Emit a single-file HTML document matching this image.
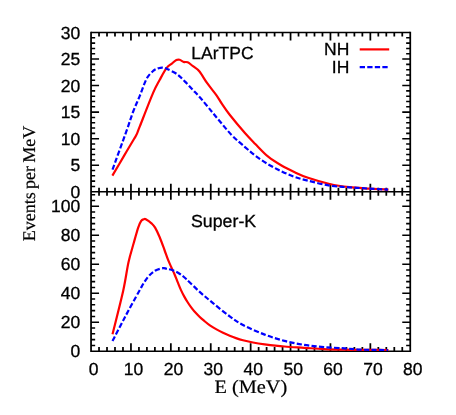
<!DOCTYPE html><html><head><meta charset="utf-8"><style>html,body{margin:0;padding:0;background:#fff}svg{display:block}text{font-family:"Liberation Sans",sans-serif;text-rendering:geometricPrecision;fill:#000;stroke:#000;stroke-width:0.3px}.s{font-family:"Liberation Serif",serif;stroke-width:0.2px}</style></head><body><div style="will-change:transform;width:456px;height:415px">
<svg width="456" height="415" viewBox="0 0 456 415">
<rect width="456" height="415" fill="#fff"/>
<path d="M99.03,32.5v4.1 M99.03,187.65V195.85 M99.03,351.2v-4.1 M107.01,32.5v4.1 M107.01,187.65V195.85 M107.01,351.2v-4.1 M114.99,32.5v4.1 M114.99,187.65V195.85 M114.99,351.2v-4.1 M122.97,32.5v4.1 M122.97,187.65V195.85 M122.97,351.2v-4.1 M130.95,32.5v8.0 M130.95,183.75V199.75 M130.95,351.2v-8.0 M138.93,32.5v4.1 M138.93,187.65V195.85 M138.93,351.2v-4.1 M146.91,32.5v4.1 M146.91,187.65V195.85 M146.91,351.2v-4.1 M154.89,32.5v4.1 M154.89,187.65V195.85 M154.89,351.2v-4.1 M162.87,32.5v4.1 M162.87,187.65V195.85 M162.87,351.2v-4.1 M170.85,32.5v8.0 M170.85,183.75V199.75 M170.85,351.2v-8.0 M178.83,32.5v4.1 M178.83,187.65V195.85 M178.83,351.2v-4.1 M186.81,32.5v4.1 M186.81,187.65V195.85 M186.81,351.2v-4.1 M194.79,32.5v4.1 M194.79,187.65V195.85 M194.79,351.2v-4.1 M202.77,32.5v4.1 M202.77,187.65V195.85 M202.77,351.2v-4.1 M210.75,32.5v8.0 M210.75,183.75V199.75 M210.75,351.2v-8.0 M218.73,32.5v4.1 M218.73,187.65V195.85 M218.73,351.2v-4.1 M226.71,32.5v4.1 M226.71,187.65V195.85 M226.71,351.2v-4.1 M234.69,32.5v4.1 M234.69,187.65V195.85 M234.69,351.2v-4.1 M242.67,32.5v4.1 M242.67,187.65V195.85 M242.67,351.2v-4.1 M250.65,32.5v8.0 M250.65,183.75V199.75 M250.65,351.2v-8.0 M258.63,32.5v4.1 M258.63,187.65V195.85 M258.63,351.2v-4.1 M266.61,32.5v4.1 M266.61,187.65V195.85 M266.61,351.2v-4.1 M274.59,32.5v4.1 M274.59,187.65V195.85 M274.59,351.2v-4.1 M282.57,32.5v4.1 M282.57,187.65V195.85 M282.57,351.2v-4.1 M290.55,32.5v8.0 M290.55,183.75V199.75 M290.55,351.2v-8.0 M298.53,32.5v4.1 M298.53,187.65V195.85 M298.53,351.2v-4.1 M306.51,32.5v4.1 M306.51,187.65V195.85 M306.51,351.2v-4.1 M314.49,32.5v4.1 M314.49,187.65V195.85 M314.49,351.2v-4.1 M322.47,32.5v4.1 M322.47,187.65V195.85 M322.47,351.2v-4.1 M330.45,32.5v8.0 M330.45,183.75V199.75 M330.45,351.2v-8.0 M338.43,32.5v4.1 M338.43,187.65V195.85 M338.43,351.2v-4.1 M346.41,32.5v4.1 M346.41,187.65V195.85 M346.41,351.2v-4.1 M354.39,32.5v4.1 M354.39,187.65V195.85 M354.39,351.2v-4.1 M362.37,32.5v4.1 M362.37,187.65V195.85 M362.37,351.2v-4.1 M370.35,32.5v8.0 M370.35,183.75V199.75 M370.35,351.2v-8.0 M378.33,32.5v4.1 M378.33,187.65V195.85 M378.33,351.2v-4.1 M386.31,32.5v4.1 M386.31,187.65V195.85 M386.31,351.2v-4.1 M394.29,32.5v4.1 M394.29,187.65V195.85 M394.29,351.2v-4.1 M402.27,32.5v4.1 M402.27,187.65V195.85 M402.27,351.2v-4.1" stroke="#000" stroke-width="1.75" fill="none"/>
<path d="M91.05,186.44h4.1 M410.25,186.44h-4.1 M91.05,181.13h4.1 M410.25,181.13h-4.1 M91.05,175.82h4.1 M410.25,175.82h-4.1 M91.05,170.52h4.1 M410.25,170.52h-4.1 M91.05,165.21h8.0 M410.25,165.21h-8.0 M91.05,159.90h4.1 M410.25,159.90h-4.1 M91.05,154.59h4.1 M410.25,154.59h-4.1 M91.05,149.28h4.1 M410.25,149.28h-4.1 M91.05,143.97h4.1 M410.25,143.97h-4.1 M91.05,138.67h8.0 M410.25,138.67h-8.0 M91.05,133.36h4.1 M410.25,133.36h-4.1 M91.05,128.05h4.1 M410.25,128.05h-4.1 M91.05,122.74h4.1 M410.25,122.74h-4.1 M91.05,117.43h4.1 M410.25,117.43h-4.1 M91.05,112.12h8.0 M410.25,112.12h-8.0 M91.05,106.82h4.1 M410.25,106.82h-4.1 M91.05,101.51h4.1 M410.25,101.51h-4.1 M91.05,96.20h4.1 M410.25,96.20h-4.1 M91.05,90.89h4.1 M410.25,90.89h-4.1 M91.05,85.58h8.0 M410.25,85.58h-8.0 M91.05,80.28h4.1 M410.25,80.28h-4.1 M91.05,74.97h4.1 M410.25,74.97h-4.1 M91.05,69.66h4.1 M410.25,69.66h-4.1 M91.05,64.35h4.1 M410.25,64.35h-4.1 M91.05,59.04h8.0 M410.25,59.04h-8.0 M91.05,53.73h4.1 M410.25,53.73h-4.1 M91.05,48.43h4.1 M410.25,48.43h-4.1 M91.05,43.12h4.1 M410.25,43.12h-4.1 M91.05,37.81h4.1 M410.25,37.81h-4.1 M91.05,345.40h4.1 M410.25,345.40h-4.1 M91.05,339.60h4.1 M410.25,339.60h-4.1 M91.05,333.81h4.1 M410.25,333.81h-4.1 M91.05,328.01h4.1 M410.25,328.01h-4.1 M91.05,322.21h8.0 M410.25,322.21h-8.0 M91.05,316.41h4.1 M410.25,316.41h-4.1 M91.05,310.61h4.1 M410.25,310.61h-4.1 M91.05,304.81h4.1 M410.25,304.81h-4.1 M91.05,299.02h4.1 M410.25,299.02h-4.1 M91.05,293.22h8.0 M410.25,293.22h-8.0 M91.05,287.42h4.1 M410.25,287.42h-4.1 M91.05,281.62h4.1 M410.25,281.62h-4.1 M91.05,275.82h4.1 M410.25,275.82h-4.1 M91.05,270.03h4.1 M410.25,270.03h-4.1 M91.05,264.23h8.0 M410.25,264.23h-8.0 M91.05,258.43h4.1 M410.25,258.43h-4.1 M91.05,252.63h4.1 M410.25,252.63h-4.1 M91.05,246.83h4.1 M410.25,246.83h-4.1 M91.05,241.03h4.1 M410.25,241.03h-4.1 M91.05,235.24h8.0 M410.25,235.24h-8.0 M91.05,229.44h4.1 M410.25,229.44h-4.1 M91.05,223.64h4.1 M410.25,223.64h-4.1 M91.05,217.84h4.1 M410.25,217.84h-4.1 M91.05,212.04h4.1 M410.25,212.04h-4.1 M91.05,206.25h8.0 M410.25,206.25h-8.0 M91.05,200.45h4.1 M410.25,200.45h-4.1 M91.05,194.65h4.1 M410.25,194.65h-4.1" stroke="#000" stroke-width="1.55" fill="none"/>
<path d="M91.05,31.725V351.97499999999997 M410.25,31.725V351.97499999999997" stroke="#000" stroke-width="1.75" fill="none"/>
<path d="M91.05,32.5H410.25 M91.05,191.75H410.25 M91.05,351.2H410.25" stroke="#000" stroke-width="1.55" fill="none"/>
<g fill="none" stroke-linejoin="round">
<path d="M112.40,175.60 C114.33,172.32 120.40,162.00 124.00,155.90 C127.60,149.80 131.95,142.47 134.00,139.00 C136.05,135.53 135.60,136.52 136.30,135.10 C137.00,133.68 137.57,132.07 138.20,130.50 C138.83,128.93 137.62,131.97 140.10,125.70 C142.58,119.43 149.80,100.60 153.10,92.90 C156.40,85.20 157.67,83.62 159.90,79.50 C162.13,75.38 164.52,70.85 166.50,68.20 C168.48,65.55 170.15,64.97 171.80,63.60 C173.45,62.23 175.08,60.63 176.40,60.00 C177.72,59.37 178.48,59.48 179.70,59.80 C180.92,60.12 182.37,61.48 183.70,61.90 C185.03,62.32 186.15,61.58 187.70,62.30 C189.25,63.02 191.07,64.70 193.00,66.20 C194.93,67.70 196.93,68.47 199.30,71.30 C201.67,74.13 204.33,79.20 207.20,83.20 C210.07,87.20 214.07,91.88 216.50,95.30 C218.93,98.72 219.60,100.45 221.80,103.70 C224.00,106.95 225.88,109.95 229.70,114.80 C233.52,119.65 240.43,127.93 244.70,132.80 C248.97,137.67 251.38,140.02 255.30,144.00 C259.22,147.98 263.83,153.12 268.20,156.70 C272.57,160.28 277.08,162.92 281.50,165.50 C285.92,168.08 290.28,170.15 294.70,172.20 C299.12,174.25 302.17,175.83 308.00,177.80 C313.83,179.77 322.80,182.43 329.70,184.00 C336.60,185.57 342.82,186.43 349.40,187.20 C355.98,187.97 362.68,188.20 369.20,188.60 C375.72,189.00 385.28,189.43 388.50,189.60" stroke="#f00" stroke-width="2.2"/>
<path d="M112.50,169.60 C114.85,163.12 123.15,140.38 126.60,130.70 C130.05,121.02 130.98,117.35 133.20,111.50 C135.42,105.65 137.67,101.05 139.90,95.60 C142.13,90.15 144.38,82.92 146.60,78.80 C148.82,74.68 151.22,72.67 153.20,70.90 C155.18,69.13 156.83,68.75 158.50,68.20 C160.17,67.65 161.65,67.42 163.20,67.60 C164.75,67.78 165.48,68.20 167.80,69.30 C170.12,70.40 174.23,72.15 177.10,74.20 C179.97,76.25 182.35,78.97 185.00,81.60 C187.65,84.23 190.50,87.35 193.00,90.00 C195.50,92.65 197.50,94.67 200.00,97.50 C202.50,100.33 205.37,103.83 208.00,107.00 C210.63,110.17 211.88,111.85 215.80,116.50 C219.72,121.15 226.68,129.85 231.50,134.90 C236.32,139.95 240.78,143.38 244.70,146.80 C248.62,150.22 251.08,152.48 255.00,155.40 C258.92,158.32 263.78,161.65 268.20,164.30 C272.62,166.95 277.08,169.20 281.50,171.30 C285.92,173.40 290.28,175.33 294.70,176.90 C299.12,178.47 302.17,179.25 308.00,180.70 C313.83,182.15 322.80,184.50 329.70,185.60 C336.60,186.70 342.82,186.80 349.40,187.30 C355.98,187.80 362.77,188.22 369.20,188.60 C375.63,188.98 384.87,189.43 388.00,189.60" stroke="#00f" stroke-width="2.2" stroke-dasharray="5.2 2.3"/>
<path d="M112.50,334.30 C114.28,327.03 120.53,302.72 123.20,290.70 C125.87,278.68 126.73,270.18 128.50,262.20 C130.27,254.22 132.18,248.57 133.80,242.80 C135.42,237.03 136.97,231.25 138.20,227.60 C139.43,223.95 140.27,222.28 141.20,220.90 C142.13,219.52 143.03,219.57 143.80,219.30 C144.57,219.03 144.47,218.58 145.80,219.30 C147.13,220.02 150.25,222.22 151.80,223.60 C153.35,224.98 153.78,225.33 155.10,227.60 C156.42,229.87 158.13,233.47 159.70,237.20 C161.27,240.93 163.12,246.25 164.50,250.00 C165.88,253.75 166.87,256.83 168.00,259.70 C169.13,262.57 170.22,264.78 171.30,267.20 C172.38,269.62 173.42,271.67 174.50,274.20 C175.58,276.73 176.72,279.75 177.80,282.40 C178.88,285.05 179.92,287.73 181.00,290.10 C182.08,292.47 183.22,294.62 184.30,296.60 C185.38,298.58 186.38,300.23 187.50,302.00 C188.62,303.77 189.83,305.60 191.00,307.20 C192.17,308.80 193.08,310.02 194.50,311.60 C195.92,313.18 197.92,315.18 199.50,316.70 C201.08,318.22 202.27,319.25 204.00,320.70 C205.73,322.15 207.82,323.95 209.90,325.40 C211.98,326.85 214.32,328.18 216.50,329.40 C218.68,330.62 220.80,331.65 223.00,332.70 C225.20,333.75 227.53,334.80 229.70,335.70 C231.87,336.60 233.78,337.35 236.00,338.10 C238.22,338.85 240.17,339.47 243.00,340.20 C245.83,340.93 249.38,341.82 253.00,342.50 C256.62,343.18 259.47,343.63 264.70,344.30 C269.93,344.97 277.82,345.92 284.40,346.50 C290.98,347.08 297.62,347.37 304.20,347.80 C310.78,348.23 317.15,348.78 323.90,349.10 C330.65,349.42 337.85,349.57 344.70,349.70 C351.55,349.83 357.70,349.85 365.00,349.90 C372.30,349.95 384.58,349.98 388.50,350.00" stroke="#f00" stroke-width="2.2"/>
<path d="M112.50,341.00 C114.57,337.03 120.42,325.58 124.90,317.20 C129.38,308.82 135.70,297.22 139.40,290.70 C143.10,284.18 144.50,281.42 147.10,278.10 C149.70,274.78 152.35,272.45 155.00,270.80 C157.65,269.15 161.07,268.53 163.00,268.20 C164.93,267.87 164.90,268.43 166.60,268.80 C168.30,269.17 170.98,269.54 173.20,270.41 C175.42,271.28 177.68,272.53 179.90,274.01 C182.12,275.49 183.20,276.32 186.50,279.30 C189.80,282.28 195.28,287.93 199.70,291.90 C204.12,295.87 208.00,299.02 213.00,303.10 C218.00,307.18 224.70,312.75 229.70,316.40 C234.70,320.05 237.17,321.97 243.00,325.00 C248.83,328.03 257.80,331.95 264.70,334.60 C271.60,337.25 277.82,339.18 284.40,340.90 C290.98,342.62 297.62,343.87 304.20,344.90 C310.78,345.93 317.15,346.52 323.90,347.10 C330.65,347.68 338.68,347.98 344.70,348.40 C350.72,348.82 354.95,349.35 360.00,349.60 C365.05,349.85 370.33,349.83 375.00,349.90 C379.67,349.97 385.83,349.98 388.00,350.00" stroke="#00f" stroke-width="2.2" stroke-dasharray="5.2 2.3"/>
<path d="M359.7,49.4H389.2" stroke="#f00" stroke-width="2.2"/>
<path d="M359.7,67.2H388" stroke="#00f" stroke-width="2.2" stroke-dasharray="5.3 2.25"/>
</g>
<text transform="translate(80.20,197.75) scale(1.0,1)" font-size="17.5" text-anchor="end">0</text>
<text transform="translate(80.20,171.21) scale(1.0,1)" font-size="17.5" text-anchor="end">5</text>
<text transform="translate(80.20,144.67) scale(1.0,1)" font-size="17.5" text-anchor="end">10</text>
<text transform="translate(80.20,118.12) scale(1.0,1)" font-size="17.5" text-anchor="end">15</text>
<text transform="translate(80.20,91.58) scale(1.0,1)" font-size="17.5" text-anchor="end">20</text>
<text transform="translate(80.20,65.04) scale(1.0,1)" font-size="17.5" text-anchor="end">25</text>
<text transform="translate(80.20,38.50) scale(1.0,1)" font-size="17.5" text-anchor="end">30</text>
<text transform="translate(80.20,357.20) scale(1.0,1)" font-size="17.5" text-anchor="end">0</text>
<text transform="translate(80.20,328.21) scale(1.0,1)" font-size="17.5" text-anchor="end">20</text>
<text transform="translate(80.20,299.22) scale(1.0,1)" font-size="17.5" text-anchor="end">40</text>
<text transform="translate(80.20,270.23) scale(1.0,1)" font-size="17.5" text-anchor="end">60</text>
<text transform="translate(80.20,241.24) scale(1.0,1)" font-size="17.5" text-anchor="end">80</text>
<text transform="translate(80.20,212.25) scale(1.0,1)" font-size="17.5" text-anchor="end">100</text>
<text transform="translate(93.65,375.30) scale(1.0,1)" font-size="17.5" text-anchor="middle">0</text>
<text transform="translate(133.55,375.30) scale(1.0,1)" font-size="17.5" text-anchor="middle">10</text>
<text transform="translate(173.45,375.30) scale(1.0,1)" font-size="17.5" text-anchor="middle">20</text>
<text transform="translate(213.35,375.30) scale(1.0,1)" font-size="17.5" text-anchor="middle">30</text>
<text transform="translate(253.25,375.30) scale(1.0,1)" font-size="17.5" text-anchor="middle">40</text>
<text transform="translate(293.15,375.30) scale(1.0,1)" font-size="17.5" text-anchor="middle">50</text>
<text transform="translate(333.05,375.30) scale(1.0,1)" font-size="17.5" text-anchor="middle">60</text>
<text transform="translate(372.95,375.30) scale(1.0,1)" font-size="17.5" text-anchor="middle">70</text>
<text transform="translate(412.85,375.30) scale(1.0,1)" font-size="17.5" text-anchor="middle">80</text>
<text transform="translate(349.30,55.40) scale(1.0,1)" font-size="17.5" text-anchor="end">NH</text>
<text transform="translate(349.30,72.80) scale(1.0,1)" font-size="17.5" text-anchor="end">IH</text>
<text transform="translate(191.30,59.40) scale(1.0,1)" font-size="17.5" text-anchor="start">LArTPC</text>
<text transform="translate(191.00,226.70) scale(1.015,1)" font-size="17.5" text-anchor="start">Super-K</text>
<text class="s" transform="translate(214.50,393.30) scale(1.07,1)" font-size="19" text-anchor="start">E (MeV)</text>
<text class="s" transform="translate(34.85,241.20) rotate(-90) scale(1.005,1)" font-size="17.9" text-anchor="start" word-spacing="-1.15">Events per MeV</text>
</svg></div></body></html>
